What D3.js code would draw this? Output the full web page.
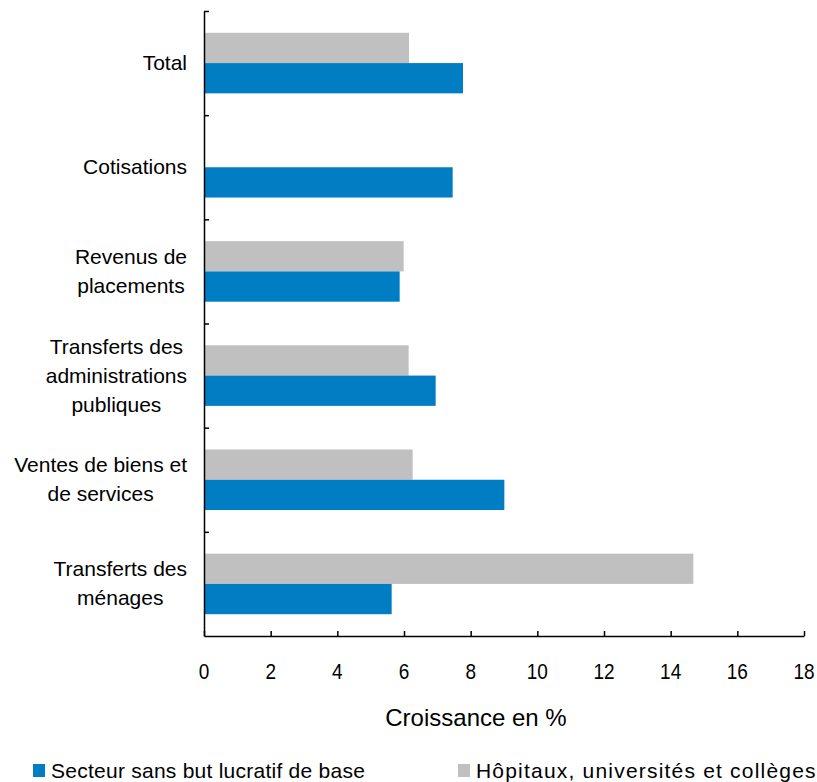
<!DOCTYPE html>
<html><head><meta charset="utf-8">
<script src="https://cdn.jsdelivr.net/npm/d3@7"></script>
<style>
body{margin:0;background:#fff;}
text{font-family:"Liberation Sans",Arial,sans-serif;fill:#000;}
</style></head>
<body><svg id="c" width="817" height="782"></svg>
<script>
const categories = [
  ["Total"],
  ["Cotisations"],
  ["Revenus de","placements"],
  ["Transferts des","administrations","publiques"],
  ["Ventes de biens et","de services"],
  ["Transferts des","ménages"]
];
const seriesNames = ["Hôpitaux, universités et collèges","Secteur sans but lucratif de base"];
const hopitaux = [6.15, null, 5.99, 6.14, 6.26, 14.68];
const secteur  = [7.77, 7.46, 5.87, 6.95, 9.01, 5.63];
const xTicks = [0,2,4,6,8,10,12,14,16,18];
const colors = {"Secteur sans but lucratif de base":"#007DC3","Hôpitaux, universités et collèges":"#C0C0C0"};
const axisTitle = "Croissance en %";

(function(){
const svg = d3.select("#c");
const pL = 204, pR = 804, pT = 11, pB = 636;
const x = d3.scaleLinear().domain([0,18]).range([pL,pR]);
const catKeys = categories.map(c=>c.join(" "));
const y = d3.scaleBand().domain(catKeys).range([pT,pB]).padding(0);
const inner = d3.scaleBand().domain(seriesNames).range([0,y.bandwidth()]).paddingInner(0).paddingOuter(0.72);

const seriesVals = {[seriesNames[0]]:hopitaux,[seriesNames[1]]:secteur};
seriesNames.forEach(s=>{
  svg.append("g").selectAll("rect").data(catKeys.map((k,i)=>({k,v:seriesVals[s][i]})).filter(d=>d.v!=null))
    .join("rect")
    .attr("x",x(0)).attr("y",d=>y(d.k)+inner(s))
    .attr("width",d=>x(d.v)-x(0)).attr("height",inner.bandwidth())
    .attr("fill",colors[s]);
});

const gx = svg.append("g").attr("transform",`translate(0,${pB})`)
  .call(d3.axisBottom(x).tickValues(xTicks).tickSizeInner(-5).tickSizeOuter(0).tickFormat(d3.format("d")));
gx.select(".domain").attr("stroke","#000").attr("stroke-width",1.5);
gx.selectAll(".tick line").attr("stroke","#000").attr("stroke-width",1.5);
gx.selectAll(".tick text").remove();
xTicks.forEach(t=>{
  svg.append("text").attr("transform",`translate(${x(t)},${pB+43}) scale(1,1.12)`)
    .attr("text-anchor","middle").style("font-size","19px").text(t);
});

const gy = svg.append("g").attr("transform",`translate(${pL},0)`);
const yScaleTicks = d3.scaleLinear().domain([0,catKeys.length]).range([pT,pB]);
gy.call(d3.axisLeft(yScaleTicks).tickValues(d3.range(0,catKeys.length)).tickSizeInner(-5).tickSizeOuter(0).tickFormat(""));
gy.select(".domain").attr("stroke","#000").attr("stroke-width",1.5);
gy.selectAll(".tick line").attr("stroke","#000").attr("stroke-width",1.5);

const lh = 29;
categories.forEach((lines,i)=>{
  const cy = y(catKeys[i]) + y.bandwidth()/2;
  const g = svg.append("g");
  const ts = lines.map((ln,j)=>g.append("text").attr("text-anchor","middle").style("font-size","21px").text(ln));
  const w = d3.max(ts, t=>t.node().getComputedTextLength());
  const cx = 187 - w/2;
  ts.forEach((t,j)=>{
    t.attr("x",cx).attr("y",cy + (j - (lines.length-1)/2)*lh + 7);
  });
});

svg.append("text").attr("x",476).attr("y",726)
  .attr("text-anchor","middle").style("font-size","24px").text(axisTitle);

const legendItems = [
  {name:seriesNames[1], x:33, ls:0.25},
  {name:seriesNames[0], x:458, ls:1.2}
];
legendItems.forEach(it=>{
  svg.append("rect").attr("x",it.x).attr("y",764).attr("width",12).attr("height",13).attr("fill",colors[it.name]);
  svg.append("text").attr("x",it.x+18).attr("y",778)
    .style("font-size","21px").style("letter-spacing",it.ls+"px").text(it.name);
});
})();
</script></body></html>
